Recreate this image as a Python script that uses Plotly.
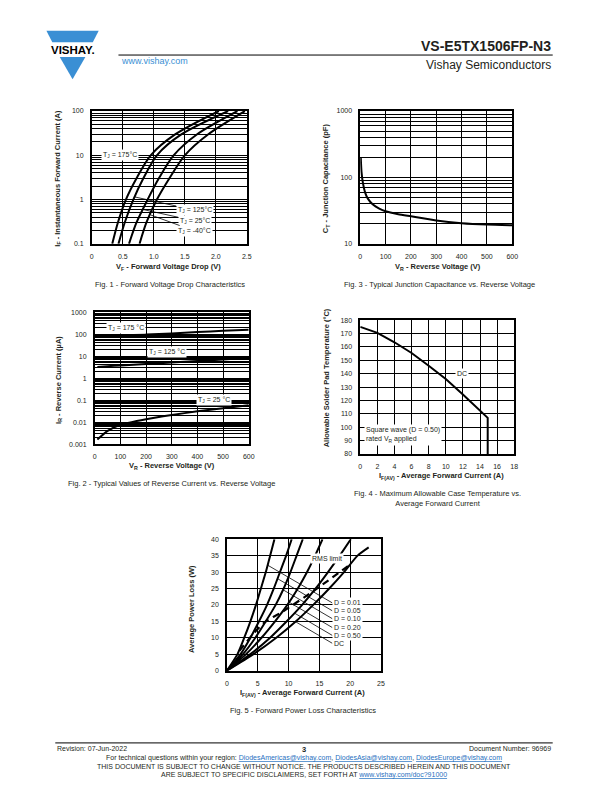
import math
import plotly.graph_objects as go

W, H = 612, 792
FONT = "Liberation Sans, Arial, Helvetica, sans-serif"
INK = "#231f20"
BLUE = "#3a8fd4"
LINK = "#1f6fc0"

# ---------------- Fig. 1 : forward characteristics ----------------
f1_current = [0.1, 0.3, 1, 3, 10, 30, 100]
f1_vf_175 = [0.33, 0.42, 0.55, 0.72, 0.95, 1.35, 2.05]
f1_vf_125 = [0.43, 0.53, 0.67, 0.83, 1.05, 1.45, 2.20]
f1_vf_25 = [0.60, 0.72, 0.90, 1.08, 1.32, 1.70, 2.35]
f1_vf_m40 = [0.77, 0.88, 1.05, 1.25, 1.50, 1.88, 2.47]
f1_xticks = [0, 0.5, 1.0, 1.5, 2.0, 2.5]
f1_xticklabels = ["0", "0.5", "1.0", "1.5", "2.0", "2.5"]
f1_yticks = [0.1, 1, 10, 100]
f1_yticklabels = ["0.1", "1", "10", "100"]

# ---------------- Fig. 3 : junction capacitance ----------------
f3_vr = [2, 5, 10, 20, 30, 50, 75, 100, 150, 200, 300, 400, 500, 600]
f3_ct = [200, 120, 85, 58, 48, 39, 34, 31, 28, 26, 22.5, 20.5, 19.5, 19]
f3_xticks = [0, 100, 200, 300, 400, 500, 600]
f3_yticks = [10, 100, 1000]
f3_yticklabels = ["10", "100", "1000"]

# ---------------- Fig. 2 : reverse current ----------------
f2_vr = [10, 50, 100, 200, 300, 400, 500, 600]
f2_ir_175 = [80, 84, 88, 97, 108, 125, 142, 160]
f2_ir_125 = [3.2, 3.5, 3.8, 4.4, 5.2, 6.0, 7.1, 8.5]
f2_ir_25 = [0.0016, 0.004, 0.0075, 0.0135, 0.021, 0.031, 0.043, 0.058]
f2_xticks = [0, 100, 200, 300, 400, 500, 600]
f2_yticks = [0.001, 0.01, 0.1, 1, 10, 100, 1000]
f2_yticklabels = ["0.001", "0.01", "0.1", "1", "10", "100", "1000"]

# ---------------- Fig. 4 : allowable temperature ----------------
f4_if = [0, 2, 4, 6, 8, 10, 12, 14, 14.9, 14.9]
f4_temp = [175, 170.5, 163.5, 155.5, 146, 136, 124.5, 112, 107, 80]
f4_xticks = list(range(0, 19, 2))
f4_yticks = list(range(80, 181, 10))

# ---------------- Fig. 5 : power loss ----------------
f5_labels = ["D = 0.01", "D = 0.05", "D = 0.10", "D = 0.20", "D = 0.50", "DC"]
f5_x = [
    [0, 1.7, 2.8, 3.8, 4.7, 5.5, 6.3, 7.0, 7.7],
    [0, 2.2, 3.8, 5.2, 6.5, 7.6, 8.6, 9.6, 10.5],
    [0, 2.6, 4.6, 6.3, 7.9, 9.2, 10.3, 11.3, 12.3],
    [0, 3.1, 5.6, 7.8, 9.8, 11.5, 13.0, 14.3, 15.5],
    [0, 3.8, 7.0, 9.7, 12.2, 14.4, 16.4, 18.3, 20.1],
    [0, 4.3, 8.0, 11.2, 14.0, 16.6, 19.0, 21.2, 23.0],
]
f5_y = [
    [0, 5, 10, 15, 20, 25, 30, 35, 40],
    [0, 5, 10, 15, 20, 25, 30, 35, 40],
    [0, 5, 10, 15, 20, 25, 30, 35, 40],
    [0, 5, 10, 15, 20, 25, 30, 35, 40],
    [0, 5, 10, 15, 20, 25, 30, 35, 40],
    [0, 5, 10, 15, 20, 25, 30, 35, 37.5],
]
f5_rms_x = [2.0, 4.5, 6.3, 8.9, 14.1, 20.0]
f5_rms_y = [6.0, 11.7, 15.0, 17.8, 24.3, 32.3]
f5_label_x = 17.1
f5_label_y = [20.6, 18.2, 15.8, 13.1, 10.7, 8.3]
f5_pointer_x = [6.6, 8.2, 9.1, 10.1, 10.95, 11.15]
f5_pointer_y = [32.1, 28.0, 24.6, 20.8, 17.5, 14.85]
f5_xticks = [0, 5, 10, 15, 20, 25]
f5_yticks = list(range(0, 41, 5))


def px(x):
    return x / W


def py(y):
    return 1 - y / H


def dom_x(a, b):
    return [px(a), px(b)]


def dom_y(top, bottom):
    return [py(bottom), py(top)]


tickfont = dict(family=FONT, size=7, color=INK)


def lin_axis(domain, anchor, rng, tickvals, ticktext=None):
    d = dict(domain=domain, anchor=anchor, range=rng, tickmode="array",
             tickvals=tickvals, ticktext=ticktext if ticktext else [str(v) for v in tickvals],
             showgrid=True, gridcolor="black", gridwidth=1, zeroline=False,
             showline=True, linecolor="black", linewidth=1.5, mirror=True,
             ticks="", tickfont=tickfont, ticklabelstandoff=5, fixedrange=True)
    return d


def log_axis(domain, anchor, decades, tickvals, ticktext):
    minor_vals = []
    for dcd in decades[:-1]:
        for m in range(2, 10):
            minor_vals.append(m * 10 ** dcd)
    d = dict(domain=domain, anchor=anchor, type="log",
             range=[decades[0], decades[-1]], tickmode="array",
             tickvals=tickvals, ticktext=ticktext,
             showgrid=True, gridcolor="black", gridwidth=1, zeroline=False,
             showline=True, linecolor="black", linewidth=1.5, mirror=True,
             ticks="", tickfont=tickfont, ticklabelstandoff=5, fixedrange=True,
             minor=dict(tickmode="array", tickvals=minor_vals, showgrid=True,
                        gridcolor="black", gridwidth=1, ticks=""))
    return d


fig = go.Figure()

# Fig 1 traces
for vf in (f1_vf_175, f1_vf_125, f1_vf_25, f1_vf_m40):
    fig.add_trace(go.Scatter(x=vf, y=f1_current, mode="lines", line=dict(color="black", width=2, shape="spline", smoothing=0.8),
                             xaxis="x", yaxis="y", showlegend=False, hoverinfo="skip"))
# Fig 3
fig.add_trace(go.Scatter(x=f3_vr, y=f3_ct, mode="lines", line=dict(color="black", width=2, shape="spline", smoothing=0.6),
                         xaxis="x2", yaxis="y2", showlegend=False, hoverinfo="skip"))
# Fig 2
for ir in (f2_ir_175, f2_ir_125, f2_ir_25):
    fig.add_trace(go.Scatter(x=f2_vr, y=ir, mode="lines", line=dict(color="black", width=2, shape="spline", smoothing=0.5),
                             xaxis="x3", yaxis="y3", showlegend=False, hoverinfo="skip"))
# Fig 4
fig.add_trace(go.Scatter(x=f4_if, y=f4_temp, mode="lines", line=dict(color="black", width=2),
                         xaxis="x4", yaxis="y4", showlegend=False, hoverinfo="skip"))
# Fig 5
for xs, ys in zip(f5_x, f5_y):
    fig.add_trace(go.Scatter(x=xs, y=ys, mode="lines", line=dict(color="black", width=2, shape="spline", smoothing=0.6),
                             xaxis="x5", yaxis="y5", showlegend=False, hoverinfo="skip"))
fig.add_trace(go.Scatter(x=f5_rms_x, y=f5_rms_y, mode="lines",
                         line=dict(color="black", width=2.2, dash="7px,5px", shape="spline", smoothing=0.6),
                         xaxis="x5", yaxis="y5", showlegend=False, hoverinfo="skip"))

layout = dict(
    width=W, height=H, margin=dict(l=0, r=0, t=0, b=0),
    paper_bgcolor="white", plot_bgcolor="white", showlegend=False,
    font=dict(family=FONT, color=INK),
    xaxis=lin_axis(dom_x(91, 248), "y", [0, 2.5], f1_xticks, f1_xticklabels),
    yaxis=log_axis(dom_y(108, 242), "x", [-1, 0, 1, 2], f1_yticks, f1_yticklabels),
    xaxis2=lin_axis(dom_x(363, 517), "y2", [0, 600], f3_xticks),
    yaxis2=log_axis(dom_y(108, 242), "x2", [1, 2, 3], f3_yticks, f3_yticklabels),
    xaxis3=lin_axis(dom_x(94, 250), "y3", [0, 600], f2_xticks),
    yaxis3=log_axis(dom_y(311, 444), "x3", [-3, -2, -1, 0, 1, 2, 3], f2_yticks, f2_yticklabels),
    xaxis4=lin_axis(dom_x(363, 519), "y4", [0, 18], f4_xticks),
    yaxis4=lin_axis(dom_y(319, 454), "x4", [80, 180], f4_yticks),
    xaxis5=lin_axis(dom_x(228, 384), "y5", [0, 25], f5_xticks),
    yaxis5=lin_axis(dom_y(540, 672.5), "x5", [0, 40], f5_yticks),
)
fig.update_layout(**layout)

ann = []


def ptext(x, y, text, size=7, xanchor="center", color=INK, bold=False, angle=0):
    if bold:
        text = "<b>" + text + "</b>"
    ann.append(dict(x=px(x), y=py(y), xref="paper", yref="paper", text=text, showarrow=False,
                    xanchor=xanchor, yanchor="middle", textangle=angle,
                    font=dict(family=FONT, size=size, color=color)))


# axis titles
ptext(169, 265, "V<sub>F</sub> - Forward Voltage Drop (V)", 7.5, bold=True)
ptext(57, 176, "I<sub>F</sub> - Instantaneous Forward Current (A)", 7.5, bold=True, angle=-90)
ptext(442, 265, "V<sub>R</sub> - Reverse Voltage (V)", 7.5, bold=True)
ptext(329, 176, "C<sub>T</sub> - Junction Capacitance (pF)", 7.5, bold=True, angle=-90)
ptext(172, 466, "V<sub>R</sub> - Reverse Voltage (V)", 7.5, bold=True)
ptext(57, 379, "I<sub>R</sub> - Reverse Current (µA)", 7.5, bold=True, angle=-90)
ptext(445, 476, "I<sub>F(AV)</sub> - Average Forward Current (A)", 7.5, bold=True)
ptext(329, 377, "Allowable Solder Pad Temperature (°C)", 7.5, bold=True, angle=-90)
ptext(304, 695, "I<sub>F(AV)</sub> - Average Forward Current (A)", 7.5, bold=True)
ptext(192, 610, "Average Power Loss (W)", 7.5, bold=True, angle=-90)

# captions
ptext(170, 283, "Fig. 1 - Forward Voltage Drop Characteristics", 7.5)
ptext(443, 283, "Fig. 3 - Typical Junction Capacitance vs. Reverse Voltage", 7.5)
ptext(172, 484, "Fig. 2 - Typical Values of Reverse Current vs. Reverse Voltage", 7.5)
ptext(441, 498.5, "Fig. 4 - Maximum Allowable Case Temperature vs.<br>Average Forward Current", 7.5)
ptext(305, 713, "Fig. 5 - Forward Power Loss Characteristics", 7.5)

lblfont = dict(family=FONT, size=7, color=INK)


def dlabel(xr, yr, x, y, text, xanchor="center"):
    ann.append(dict(xref=xr, yref=yr, x=x, y=y, text=text, showarrow=False, xanchor=xanchor,
                    yanchor="middle", bgcolor="white", borderpad=1, font=lblfont))


# Fig 1 labels
dlabel("x", "y", 0.45, 1.0, "T<sub>J</sub> = 175°C")
f1_lab = [("T<sub>J</sub> = 125°C", 0.69, 1.15, 0.58),
          ("T<sub>J</sub> = 25°C", 0.82, 0.60, 0.33),
          ("T<sub>J</sub> = -40°C", 0.95, 0.45, 0.195)]
for text, vx, iy, ly in f1_lab:
    ann.append(dict(xref="x", yref="y", axref="x", ayref="y", x=vx, y=math.log10(iy),
                    ax=1.66, ay=math.log10(ly), text=text, showarrow=True, arrowhead=0,
                    arrowwidth=0.8, arrowcolor="black", standoff=0, startstandoff=0,
                    bgcolor="white", borderpad=1, font=lblfont))

# Fig 2 labels
dlabel("x3", "y3", 120, math.log10(190), "T<sub>J</sub> = 175 °C")
dlabel("x3", "y3", 283, math.log10(15), "T<sub>J</sub> = 125 °C")
dlabel("x3", "y3", 466, math.log10(0.1), "T<sub>J</sub> = 25 °C")

# Fig 4 labels
dlabel("x4", "y4", 11.9, 140, "DC")
ann.append(dict(xref="x4", yref="y4", x=0.45, y=94.3, text="Square wave (D = 0.50)<br>rated V<sub>R</sub> applied",
                showarrow=False, xanchor="left", yanchor="middle", align="left", bgcolor="white",
                borderpad=1, font=lblfont))

# Fig 5 labels
dlabel("x5", "y5", 16.2, 34.1, "RMS limit")
shapes = []
for lab, ly, sx, sy in zip(f5_labels, f5_label_y, f5_pointer_x, f5_pointer_y):
    dlabel("x5", "y5", f5_label_x, ly, lab, xanchor="left")
    shapes.append(dict(type="line", xref="x5", yref="y5", x0=sx, y0=sy, x1=f5_label_x, y1=ly,
                       line=dict(color="black", width=0.8)))

# header
ann.append(dict(x=px(558), y=py(42), xref="paper", yref="paper", showarrow=False, xanchor="right",
                yanchor="middle", text="<b>VS-E5TX1506FP-N3</b>", font=dict(family=FONT, size=14, color=INK)))
ann.append(dict(x=px(558), y=py(62), xref="paper", yref="paper", showarrow=False, xanchor="right",
                yanchor="middle", text="Vishay Semiconductors", font=dict(family=FONT, size=12, color=INK)))
ann.append(dict(x=px(119), y=py(58), xref="paper", yref="paper", showarrow=False, xanchor="left",
                yanchor="middle", text="www.vishay.com", font=dict(family=FONT, size=9, color=BLUE)))
ann.append(dict(x=px(72), y=py(46), xref="paper", yref="paper", showarrow=False, xanchor="center",
                yanchor="middle", text="<b>VISHAY.</b>", font=dict(family=FONT, size=11.5, color="black")))
shapes.append(dict(type="line", xref="paper", yref="paper", x0=px(118), x1=px(558), y0=py(51.5), y1=py(51.5),
                   line=dict(color="black", width=1)))


def path(pts):
    return "M " + " L ".join(f"{px(a):.5f},{py(b):.5f}" for a, b in pts) + " Z"


shapes.append(dict(type="path", xref="paper", yref="paper",
                   path=path([(45, 27), (98, 27), (92, 38.5), (51, 38.5)]),
                   fillcolor=BLUE, line=dict(width=0)))
shapes.append(dict(type="path", xref="paper", yref="paper",
                   path=path([(58.5, 53.5), (84.5, 53.5), (71.5, 76)]),
                   fillcolor=BLUE, line=dict(width=0)))

# footer
shapes.append(dict(type="line", xref="paper", yref="paper", x0=px(54), x1=px(558), y0=py(745.5), y1=py(745.5),
                   line=dict(color="black", width=1)))
ptext(54, 751.5, "Revision: 07-Jun-2022", 7, xanchor="left")
ptext(306, 752, "3", 7.5, bold=True)
ptext(558, 751.5, "Document Number: 96969", 7, xanchor="right")


def lk(t):
    return f'<span style="color:{LINK};text-decoration:underline">{t}</span>'


ptext(306, 760.5, "For technical questions within your region: " + lk("DiodesAmericas@vishay.com") + ", "
      + lk("DiodesAsia@vishay.com") + ", " + lk("DiodesEurope@vishay.com"), 7)
ptext(306, 769.5, "THIS DOCUMENT IS SUBJECT TO CHANGE WITHOUT NOTICE. THE PRODUCTS DESCRIBED HEREIN AND THIS DOCUMENT", 7)
ptext(306, 777.5, "ARE SUBJECT TO SPECIFIC DISCLAIMERS, SET FORTH AT " + lk("www.vishay.com/doc?91000"), 7)

fig.update_layout(annotations=ann, shapes=shapes)
fig.write_html("out.html", config={"displayModeBar": False},
               post_script="document.documentElement.style.margin='0';document.body.style.margin='0';"
                           "document.body.style.padding='0';document.body.style.overflow='hidden';")
